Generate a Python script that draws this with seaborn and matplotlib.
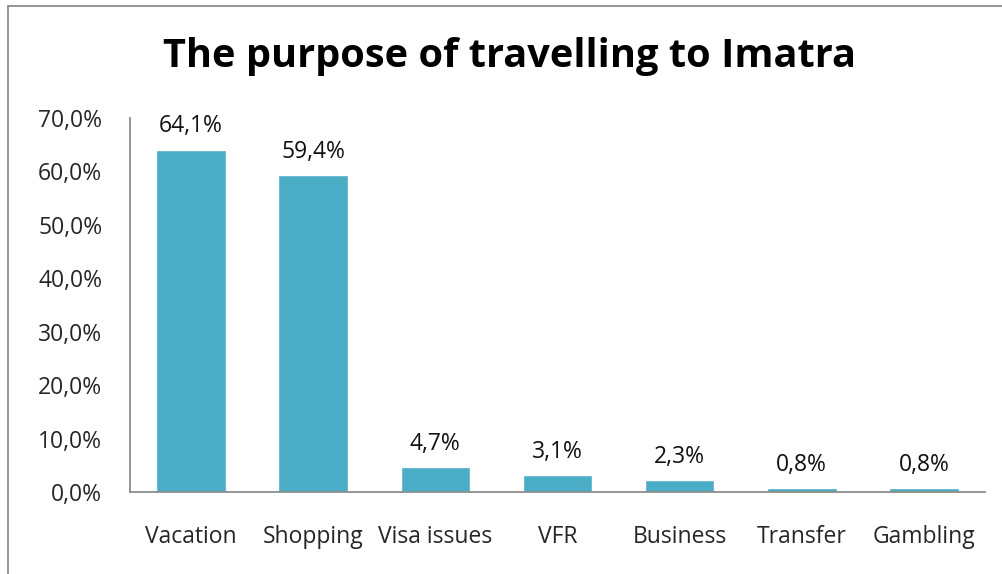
import matplotlib
matplotlib.use("Agg")
import matplotlib.pyplot as plt
import seaborn as sns
import pandas as pd
from matplotlib.lines import Line2D

categories = ["Vacation", "Shopping", "Visa issues", "VFR", "Business", "Transfer", "Gambling"]
shares = [64.1, 59.4, 4.7, 3.1, 2.3, 0.8, 0.8]
y_ticks = [0, 10, 20, 30, 40, 50, 60, 70]

df = pd.DataFrame({"purpose": categories, "share": shares})

sns.set_theme(style="white")
plt.rcParams["font.family"] = ["Open Sans", "DejaVu Sans"]

W, H = 1003, 574
fig = plt.figure(figsize=(W / 100, H / 100), dpi=100)
ax = fig.add_axes([130 / W, 1 - 492 / H, 855 / W, (492 - 118) / H])

sns.barplot(data=df, x="purpose", y="share", color="#4BACC6", saturation=1,
            width=0.57, ax=ax)

fs = 16.5
ax.set_ylim(0, 70)
ax.set_yticks(y_ticks)
ax.set_yticklabels([f"{v:.1f}%".replace(".", ",") for v in y_ticks], fontsize=fs)
ax.tick_params(axis="x", labelsize=fs, pad=24, length=0)
ax.tick_params(axis="y", pad=20, length=0)
ax.set_xlabel("")
ax.set_ylabel("")

for s in ["top", "right"]:
    ax.spines[s].set_visible(False)
for s in ["left", "bottom"]:
    ax.spines[s].set_color("#8c8c8c")
    ax.spines[s].set_linewidth(1.3)

for patch, v in zip(ax.patches, shares):
    ax.annotate(f"{v:.1f}%".replace(".", ","),
                (patch.get_x() + patch.get_width() / 2, patch.get_height()),
                xytext=(0, 8), textcoords="offset points",
                ha="center", va="bottom", fontsize=fs, color="#111111")

fig.text(510 / W, 1 - 57 / H, "The purpose of travelling to Imatra",
         ha="center", va="center", fontsize=28.6, fontweight="bold", color="#000000")

# chart frame edges
fig.add_artist(Line2D([8 / W, 1], [1 - 6 / H, 1 - 6 / H], transform=fig.transFigure,
                      color="#8c8c8c", lw=1.3))
fig.add_artist(Line2D([8 / W, 8 / W], [0, 1 - 6 / H], transform=fig.transFigure,
                      color="#8c8c8c", lw=1.3))

fig.savefig("out.png", dpi=100)
